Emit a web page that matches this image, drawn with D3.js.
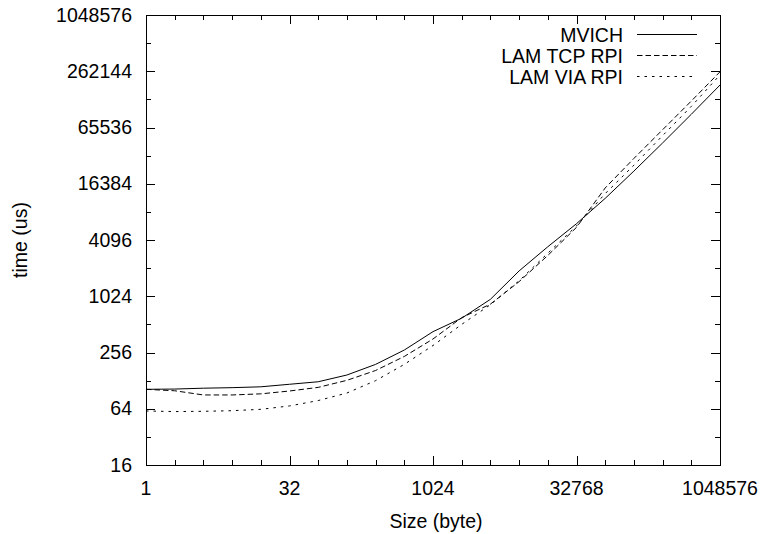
<!DOCTYPE html>
<html><head><meta charset="utf-8">
<script src="https://cdn.jsdelivr.net/npm/d3@7"></script>
<style>body{margin:0;background:#fff}svg{display:block}text{font-family:"Liberation Sans",Arial,sans-serif;fill:#000}</style>
</head><body><svg id="c" width="761" height="534"></svg>
<script>
const sizes = [1,2,4,8,16,32,64,128,256,512,1024,2048,4096,8192,16384,32768,65536,131072,262144,524288,1048576];
const mvich = [103.3,104.0,106.2,107.6,109.9,117,124.5,147,191,272,428,596,949,1911,3468,6123,11428,22385,44770,90770,186650];
const lamTcp = [103.3,99.7,89.9,89.9,92.4,99.1,108.4,128.9,164.3,232.3,357,605,843,1468,2798,5595,14768,30573,62000,125760,258500];
const lamVia = [60.6,59.7,60.1,61.0,63.1,68.6,78.3,94.3,128,191,304,512,832,1499,2957,5793,12853,25890,53600,110230,239600];
const seriesNames = ["MVICH","LAM TCP RPI","LAM VIA RPI"];
const xTicks = [1,32,1024,32768,1048576];
const yTicks = [16,64,256,1024,4096,16384,65536,262144,1048576];

const svg = d3.select("#c");
const L=146, R=720, T=15, B=465;
const x = d3.scaleLog().base(2).domain([1,1048576]).range([L,R]);
const y = d3.scaleLog().base(2).domain([16,1048576]).range([B,T]);
const FS = 19.5;

const xMinor = d3.range(0,21).map(e=>2**e);
const yMinor = d3.range(4,21).map(e=>2**e);
const g = svg.append("g").attr("stroke","#000").attr("stroke-width",1).attr("shape-rendering","crispEdges");
xMinor.forEach(v=>{
  const major = xTicks.includes(v); const len = major?9:5; const px = Math.round(x(v))+0.5;
  g.append("line").attr("x1",px).attr("x2",px).attr("y1",B).attr("y2",B-len);
  g.append("line").attr("x1",px).attr("x2",px).attr("y1",T).attr("y2",T+len);
});
yMinor.forEach(v=>{
  const major = yTicks.includes(v); const len = major?9:5; const py = Math.round(y(v))+0.5;
  g.append("line").attr("y1",py).attr("y2",py).attr("x1",L).attr("x2",L+len);
  g.append("line").attr("y1",py).attr("y2",py).attr("x1",R).attr("x2",R-len);
});
g.append("rect").attr("x",L+0.5).attr("y",T+0.5).attr("width",R-L).attr("height",B-T).attr("fill","none");

xTicks.forEach(v=>{
  svg.append("text").attr("x",x(v)).attr("y",B+30).attr("text-anchor","middle").attr("font-size",FS).text(v);
});
yTicks.forEach(v=>{
  svg.append("text").attr("x",L-14).attr("y",y(v)+6.5).attr("text-anchor","end").attr("font-size",FS).text(v);
});
svg.append("text").attr("x",(L+R)/2+3).attr("y",B+63).attr("text-anchor","middle").attr("font-size",FS).text("Size (byte)");
svg.append("text").attr("transform",`translate(27,${(T+B)/2}) rotate(-90)`).attr("text-anchor","middle").attr("font-size",FS).text("time (us)");

const dashes = [null,"5.5,3","2.5,5"];
const data = [mvich,lamTcp,lamVia];
const line = d3.line().x(d=>x(d[0])).y(d=>y(d[1]));
data.forEach((vals,i)=>{
  svg.append("path").datum(sizes.map((s,j)=>[s,vals[j]]))
    .attr("d",line).attr("fill","none").attr("stroke","#000").attr("stroke-width",1)
    .attr("stroke-dasharray",dashes[i]);
  const ly = 34.5 + i*21;
  svg.append("text").attr("x",623).attr("y",ly+7.5).attr("text-anchor","end").attr("font-size",FS).text(seriesNames[i]);
  svg.append("line").attr("x1",637).attr("x2",697).attr("y1",ly).attr("y2",ly)
    .attr("stroke","#000").attr("stroke-width",1).attr("stroke-dasharray",dashes[i]);
});
</script></body></html>
